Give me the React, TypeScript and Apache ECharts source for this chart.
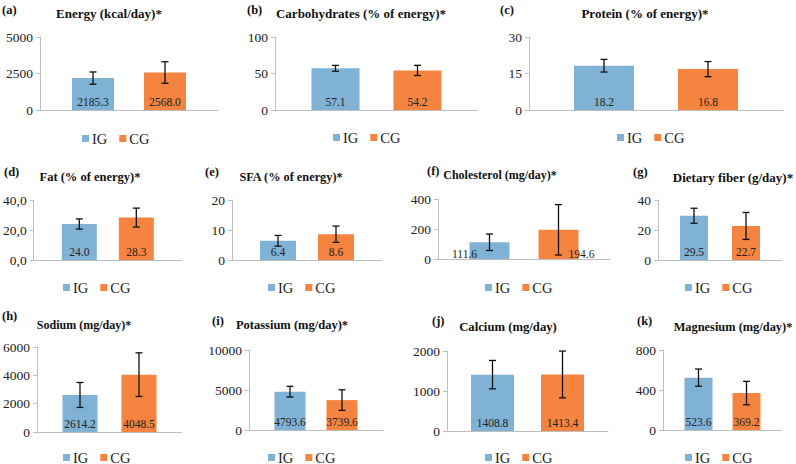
import React, { useEffect, useRef } from "react";
import * as echarts from "echarts";

const panelLabels = ["(a)", "(b)", "(c)", "(d)", "(e)", "(f)", "(g)", "(h)", "(i)", "(j)", "(k)"];
const titles = [
  "Energy (kcal/day)*",
  "Carbohydrates (% of energy)*",
  "Protein (% of energy)*",
  "Fat (% of energy)*",
  "SFA (% of energy)*",
  "Cholesterol (mg/day)*",
  "Dietary fiber (g/day)*",
  "Sodium (mg/day)*",
  "Potassium (mg/day)*",
  "Calcium (mg/day)",
  "Magnesium (mg/day)*",
];
const seriesNames = ["IG", "CG"];
const igMeans = [2185.3, 57.1, 18.2, 24.0, 6.4, 111.6, 29.5, 2614.2, 4793.6, 1408.8, 523.6];
const cgMeans = [2568.0, 54.2, 16.8, 28.3, 8.6, 194.6, 22.7, 4048.5, 3739.6, 1413.4, 369.2];
const igSD = [420, 4, 2.6, 3.4, 1.8, 55, 5, 880, 670, 355, 86];
const cgSD = [740, 7, 3.1, 6.3, 2.7, 168, 9, 1540, 1290, 585, 117];
const yMax = [5000, 100, 30, 40, 20, 400, 40, 6000, 10000, 2000, 800];
const yInterval = [2500, 50, 15, 20, 10, 200, 20, 2000, 5000, 1000, 400];
const commaDecimalPanels = [3];

// layout (pixels)
const grids = [
  { l: 40, r: 218, t: 37, b: 110 },
  { l: 275, r: 478, t: 37, b: 110 },
  { l: 529, r: 783, t: 37, b: 110 },
  { l: 33, r: 182, t: 200, b: 260 },
  { l: 232, r: 382, t: 200, b: 260 },
  { l: 438, r: 610, t: 199, b: 259 },
  { l: 658, r: 782, t: 200, b: 260 },
  { l: 35, r: 182, t: 347, b: 432 },
  { l: 249, r: 383, t: 350, b: 430 },
  { l: 447, r: 608, t: 351, b: 431 },
  { l: 663, r: 782, t: 350, b: 430 },
];
const bars = [
  { w: 42, g: 30 }, { w: 48, g: 34 }, { w: 60, g: 44 },
  { w: 35, g: 22 }, { w: 36, g: 22 }, { w: 40, g: 29 }, { w: 28, g: 24 },
  { w: 35, g: 24 }, { w: 31, g: 21 }, { w: 43, g: 27 }, { w: 28, g: 20 },
];
const titlePos = [
  [109, 13], [361, 13], [645, 13],
  [90, 177], [291, 177], [500, 175], [733, 177],
  [84, 325], [292, 325], [508, 327], [733, 327],
];
const titleSize = [13, 13, 13, 12.5, 12.3, 12, 13, 12, 12.5, 12.7, 12.4];
const labelPos = [
  [2, 10], [247, 10], [500, 10],
  [4, 172], [205, 172], [427, 171], [633, 172],
  [2, 316], [212, 321], [432, 321], [637, 321],
];
const legendPos = [
  [82, 131], [333, 130], [617, 130],
  [63, 280], [268, 280], [485, 280], [685, 280],
  [63, 450], [268, 450], [485, 450], [685, 450],
];

const BLUE = "#7FB2D5";
const ORANGE = "#F4843F";
const FONT = "Liberation Serif";
const AXIS = "#BFBFBF";

export default function App() {
  const ref = useRef<HTMLDivElement>(null);
  useEffect(() => {
    if (!ref.current) return;
    const chart = echarts.init(ref.current, undefined, { renderer: "svg" });
    const grid: any[] = [];
    const xAxis: any[] = [];
    const yAxis: any[] = [];
    const series: any[] = [];
    const legend: any[] = [];
    const graphic: any[] = [];

    grids.forEach((G, i) => {
      grid.push({ left: G.l, top: G.t, width: G.r - G.l, height: G.b - G.t, containLabel: false });
      xAxis.push({
        type: "category", gridIndex: i, data: [""],
        axisLine: { lineStyle: { color: AXIS, width: 1 } },
        axisTick: { show: false }, axisLabel: { show: false },
      });
      const comma = commaDecimalPanels.includes(i);
      yAxis.push({
        type: "value", gridIndex: i, min: 0, max: yMax[i], interval: yInterval[i],
        axisLine: { show: true, lineStyle: { color: AXIS, width: 1 } },
        axisTick: { show: true, length: 4, lineStyle: { color: AXIS } },
        splitLine: { show: false },
        axisLabel: {
          margin: 7, color: "#222", fontFamily: FONT, fontSize: 13.5,
          formatter: (v: number) => (comma ? v.toFixed(1).replace(".", ",") : String(v)),
        },
      });
      const B = bars[i];
      const means = [igMeans[i], cgMeans[i]];
      const sds = [igSD[i], cgSD[i]];
      [0, 1].forEach((k) => {
        const isF = i === 5;
        series.push({
          type: "bar", name: seriesNames[k], xAxisIndex: i, yAxisIndex: i,
          data: [means[k]], barWidth: B.w, barGap: (B.g / B.w) * 100 + "%",
          itemStyle: { color: k === 0 ? BLUE : ORANGE },
          label: {
            show: true, position: "insideBottom", distance: 2,
            offset: isF ? [k === 0 ? -25 : 23, 3] : [0, 0],
            formatter: (p: any) => Number(p.value).toFixed(1),
            color: "#222", fontFamily: FONT, fontSize: 11.5,
          },
        });
      });
      series.push({
        type: "custom", xAxisIndex: i, yAxisIndex: i, z: 5, silent: true,
        data: [0, 1].map((k) => [0, means[k] - sds[k], means[k] + sds[k], k]),
        encode: { x: 0, y: [1, 2] },
        renderItem: (params: any, api: any) => {
          const lo = api.coord([0, api.value(1)]);
          const hi = api.coord([0, api.value(2)]);
          const k = api.value(3);
          const cx = lo[0] + (k === 0 ? -1 : 1) * (B.w + B.g) / 2;
          const st = { stroke: "#111", lineWidth: 1.3 };
          return {
            type: "group",
            children: [
              { type: "line", shape: { x1: cx, y1: lo[1], x2: cx, y2: hi[1] }, style: st },
              { type: "line", shape: { x1: cx - 3.5, y1: lo[1], x2: cx + 3.5, y2: lo[1] }, style: st },
              { type: "line", shape: { x1: cx - 3.5, y1: hi[1], x2: cx + 3.5, y2: hi[1] }, style: st },
            ],
          };
        },
      });
      legend.push({
        left: legendPos[i][0], top: legendPos[i][1], data: seriesNames,
        icon: "rect", itemWidth: 7, itemHeight: 7, itemGap: 12, padding: 0,
        selectedMode: false,
        textStyle: { fontFamily: FONT, fontSize: 14.5, color: "#222", padding: [0, 0, 0, -2] },
      });
      graphic.push({
        type: "text", x: titlePos[i][0], y: titlePos[i][1],
        style: {
          text: titles[i], fontFamily: FONT, fontWeight: "bold", fontSize: titleSize[i], fill: "#111",
          textAlign: "center", textVerticalAlign: "middle",
        },
      });
      graphic.push({
        type: "text", x: labelPos[i][0], y: labelPos[i][1],
        style: {
          text: panelLabels[i], fontFamily: FONT, fontWeight: "bold", fontSize: 12.5, fill: "#111",
          textAlign: "left", textVerticalAlign: "middle",
        },
      });
    });

    chart.setOption({
      animation: false,
      backgroundColor: "#fff",
      grid, xAxis, yAxis, series, legend, graphic,
    });
    return () => chart.dispose();
  }, []);
  return (
    <div
      ref={ref}
      style={{ position: "absolute", left: 0, top: 0, width: 796, height: 464 }}
    />
  );
}
